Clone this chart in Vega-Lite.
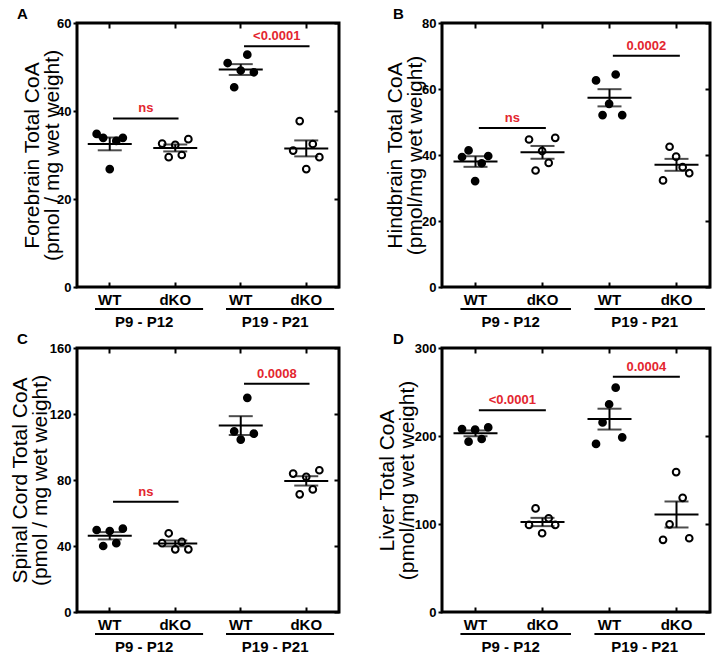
{
"$schema": "https://vega.github.io/schema/vega-lite/v6.json",
"padding": {"left": 7, "top": 5, "right": 3, "bottom": 2},
"columns": 2,
"bounds": "flush",
"spacing": {"row": 61, "column": 103},
"datasets": {
"pts": [
{"p":"A","age":"P9 - P12","g":"WT","r":1,"v":34.8},{"p":"A","age":"P9 - P12","g":"WT","r":2,"v":33.9},{"p":"A","age":"P9 - P12","g":"WT","r":3,"v":26.8},{"p":"A","age":"P9 - P12","g":"WT","r":4,"v":33.2},{"p":"A","age":"P9 - P12","g":"WT","r":5,"v":33.9},
{"p":"A","age":"P9 - P12","g":"dKO","r":1,"v":32.6},{"p":"A","age":"P9 - P12","g":"dKO","r":2,"v":29.5},{"p":"A","age":"P9 - P12","g":"dKO","r":3,"v":32.3},{"p":"A","age":"P9 - P12","g":"dKO","r":4,"v":30.0},{"p":"A","age":"P9 - P12","g":"dKO","r":5,"v":33.6},
{"p":"A","age":"P19 - P21","g":"WT","r":1,"v":50.9},{"p":"A","age":"P19 - P21","g":"WT","r":2,"v":45.4},{"p":"A","age":"P19 - P21","g":"WT","r":3,"v":49.2},{"p":"A","age":"P19 - P21","g":"WT","r":4,"v":52.8},{"p":"A","age":"P19 - P21","g":"WT","r":5,"v":48.8},
{"p":"A","age":"P19 - P21","g":"dKO","r":1,"v":31.0},{"p":"A","age":"P19 - P21","g":"dKO","r":2,"v":37.7},{"p":"A","age":"P19 - P21","g":"dKO","r":3,"v":26.8},{"p":"A","age":"P19 - P21","g":"dKO","r":4,"v":32.5},{"p":"A","age":"P19 - P21","g":"dKO","r":5,"v":29.5},
{"p":"B","age":"P9 - P12","g":"WT","r":1,"v":39.4},{"p":"B","age":"P9 - P12","g":"WT","r":2,"v":41.4},{"p":"B","age":"P9 - P12","g":"WT","r":3,"v":32.1},{"p":"B","age":"P9 - P12","g":"WT","r":4,"v":37.5},{"p":"B","age":"P9 - P12","g":"WT","r":5,"v":39.7},
{"p":"B","age":"P9 - P12","g":"dKO","r":1,"v":44.7},{"p":"B","age":"P9 - P12","g":"dKO","r":2,"v":35.3},{"p":"B","age":"P9 - P12","g":"dKO","r":3,"v":41.2},{"p":"B","age":"P9 - P12","g":"dKO","r":4,"v":37.6},{"p":"B","age":"P9 - P12","g":"dKO","r":5,"v":45.2},
{"p":"B","age":"P19 - P21","g":"WT","r":1,"v":62.6},{"p":"B","age":"P19 - P21","g":"WT","r":2,"v":52.1},{"p":"B","age":"P19 - P21","g":"WT","r":3,"v":55.5},{"p":"B","age":"P19 - P21","g":"WT","r":4,"v":64.4},{"p":"B","age":"P19 - P21","g":"WT","r":5,"v":52.1},
{"p":"B","age":"P19 - P21","g":"dKO","r":1,"v":32.3},{"p":"B","age":"P19 - P21","g":"dKO","r":2,"v":42.5},{"p":"B","age":"P19 - P21","g":"dKO","r":3,"v":39.5},{"p":"B","age":"P19 - P21","g":"dKO","r":4,"v":36.3},{"p":"B","age":"P19 - P21","g":"dKO","r":5,"v":34.5},
{"p":"C","age":"P9 - P12","g":"WT","r":1,"v":49.7},{"p":"C","age":"P9 - P12","g":"WT","r":2,"v":40.0},{"p":"C","age":"P9 - P12","g":"WT","r":3,"v":49.1},{"p":"C","age":"P9 - P12","g":"WT","r":4,"v":41.7},{"p":"C","age":"P9 - P12","g":"WT","r":5,"v":50.5},
{"p":"C","age":"P9 - P12","g":"dKO","r":1,"v":41.7},{"p":"C","age":"P9 - P12","g":"dKO","r":2,"v":47.7},{"p":"C","age":"P9 - P12","g":"dKO","r":3,"v":38.0},{"p":"C","age":"P9 - P12","g":"dKO","r":4,"v":42.5},{"p":"C","age":"P9 - P12","g":"dKO","r":5,"v":38.0},
{"p":"C","age":"P19 - P21","g":"WT","r":2,"v":109.5},{"p":"C","age":"P19 - P21","g":"WT","r":3,"v":104.5},{"p":"C","age":"P19 - P21","g":"WT","r":4,"v":129.8},{"p":"C","age":"P19 - P21","g":"WT","r":5,"v":108.1},
{"p":"C","age":"P19 - P21","g":"dKO","r":1,"v":83.9},{"p":"C","age":"P19 - P21","g":"dKO","r":2,"v":71.3},{"p":"C","age":"P19 - P21","g":"dKO","r":3,"v":81.9},{"p":"C","age":"P19 - P21","g":"dKO","r":4,"v":74.3},{"p":"C","age":"P19 - P21","g":"dKO","r":5,"v":85.9},
{"p":"D","age":"P9 - P12","g":"WT","r":1,"v":207.9},{"p":"D","age":"P9 - P12","g":"WT","r":2,"v":193.6},{"p":"D","age":"P9 - P12","g":"WT","r":3,"v":207.2},{"p":"D","age":"P9 - P12","g":"WT","r":4,"v":196.6},{"p":"D","age":"P9 - P12","g":"WT","r":5,"v":209.8},
{"p":"D","age":"P9 - P12","g":"dKO","r":1,"v":98.9},{"p":"D","age":"P9 - P12","g":"dKO","r":2,"v":117.7},{"p":"D","age":"P9 - P12","g":"dKO","r":3,"v":89.5},{"p":"D","age":"P9 - P12","g":"dKO","r":4,"v":106.4},{"p":"D","age":"P9 - P12","g":"dKO","r":5,"v":98.9},
{"p":"D","age":"P19 - P21","g":"WT","r":1,"v":191.0},{"p":"D","age":"P19 - P21","g":"WT","r":2,"v":215.4},{"p":"D","age":"P19 - P21","g":"WT","r":3,"v":236.1},{"p":"D","age":"P19 - P21","g":"WT","r":4,"v":254.9},{"p":"D","age":"P19 - P21","g":"WT","r":5,"v":198.5},
{"p":"D","age":"P19 - P21","g":"dKO","r":1,"v":82.0},{"p":"D","age":"P19 - P21","g":"dKO","r":2,"v":99.6},{"p":"D","age":"P19 - P21","g":"dKO","r":3,"v":159.0},{"p":"D","age":"P19 - P21","g":"dKO","r":4,"v":129.7},{"p":"D","age":"P19 - P21","g":"dKO","r":5,"v":83.8}
],
"sig": [
{"p":"A","a":"WT|P9 - P12","b":"dKO|P9 - P12","y":38.3,"label":"ns"},
{"p":"A","a":"WT|P19 - P21","b":"dKO|P19 - P21","y":54.7,"label":"<0.0001"},
{"p":"B","a":"WT|P9 - P12","b":"dKO|P9 - P12","y":48.2,"label":"ns"},
{"p":"B","a":"WT|P19 - P21","b":"dKO|P19 - P21","y":70.1,"label":"0.0002"},
{"p":"C","a":"WT|P9 - P12","b":"dKO|P9 - P12","y":66.8,"label":"ns"},
{"p":"C","a":"WT|P19 - P21","b":"dKO|P19 - P21","y":138.4,"label":"0.0008"},
{"p":"D","a":"WT|P9 - P12","b":"dKO|P9 - P12","y":229.4,"label":"<0.0001"},
{"p":"D","a":"WT|P19 - P21","b":"dKO|P19 - P21","y":267.2,"label":"0.0004"}
],
"grp": [
{"age":"P9 - P12","a":"WT|P9 - P12","b":"dKO|P9 - P12"},
{"age":"P19 - P21","a":"WT|P19 - P21","b":"dKO|P19 - P21"}
]
},
"config": {
"font": "Liberation Sans",
"view": {"stroke": "black", "strokeWidth": 3},
"axis": {"domain": false, "grid": false, "labelFont": "Liberation Sans", "labelFontWeight": "bold", "labelFontSize": 13, "labelColor": "black", "tickColor": "black", "tickWidth": 2, "titleFont": "Liberation Sans", "titleFontWeight": "normal", "titleFontSize": 21, "titleLineHeight": 20, "titleColor": "black"},
"title": {"font": "Liberation Sans", "fontSize": 15, "fontWeight": "bold", "anchor": "start", "color": "black", "frame": "group", "offset": -5}
},
"concat": [
{
"title": {"text": "A", "dx": -60},
"width": 262, "height": 264,
"resolve": {"axis": {"x": "independent", "y": "independent"}},
"layer": [
{"data": {"name": "pts"}, "transform": [{"filter": "datum.p === 'A'"}, {"calculate": "datum.g + '|' + datum.age", "as": "k"}],
 "mark": {"type": "point", "shape": "circle", "filled": true, "stroke": "black", "strokeWidth": 2, "size": 45, "opacity": 1},
 "encoding": {
  "x": {"field": "k", "type": "nominal", "scale": {"domain": ["WT|P9 - P12", "dKO|P9 - P12", "WT|P19 - P21", "dKO|P19 - P21"], "paddingInner": 0.5, "paddingOuter": 0.25}, "axis": {"orient": "bottom", "title": null, "labelExpr": "split(datum.label, '|')[0]", "labelAngle": 0, "tickSize": -5, "labelPadding": 10, "labelFontSize": 15}},
  "xOffset": {"field": "r", "type": "ordinal"},
  "y": {"field": "v", "type": "quantitative", "scale": {"domain": [0, 60], "nice": false}, "axis": {"values": [0, 20, 40, 60], "title": ["Forebrain Total CoA", "(pmol / mg wet weight)"], "tickSize": 4, "labelPadding": 2, "titlePadding": -6}},
  "fill": {"field": "g", "type": "nominal", "scale": {"domain": ["WT", "dKO"], "range": ["black", "white"]}, "legend": null}
 }},
{"data": {"name": "pts"}, "transform": [{"filter": "datum.p === 'A'"}, {"calculate": "datum.g + '|' + datum.age", "as": "k"}],
 "mark": {"type": "errorbar", "extent": "stderr", "color": "black", "thickness": 2, "ticks": {"size": 24, "thickness": 2, "color": "black"}},
 "encoding": {"x": {"field": "k", "type": "nominal", "axis": null}, "y": {"field": "v", "type": "quantitative", "axis": null}}},
{"data": {"name": "pts"}, "transform": [{"filter": "datum.p === 'A'"}, {"calculate": "datum.g + '|' + datum.age", "as": "k"}],
 "mark": {"type": "tick", "color": "black", "size": 44, "thickness": 2},
 "encoding": {"x": {"field": "k", "type": "nominal", "axis": {"orient": "top", "title": null, "labels": false, "tickSize": -5}}, "y": {"aggregate": "mean", "field": "v", "type": "quantitative", "axis": {"orient": "right", "title": null, "labels": false, "tickSize": -5, "values": [0, 20, 40, 60]}}}},
{"data": {"name": "sig"}, "transform": [{"filter": "datum.p === 'A'"}],
 "mark": {"type": "rule", "color": "black", "strokeWidth": 2},
 "encoding": {"x": {"field": "a", "type": "nominal", "bandPosition": 0.6, "axis": null}, "x2": {"field": "b", "bandPosition": 0.6}, "y": {"field": "y", "type": "quantitative", "axis": null}}},
{"data": {"name": "sig"}, "transform": [{"filter": "datum.p === 'A'"}],
 "mark": {"type": "text", "color": "#e3262f", "fontWeight": "bold", "fontSize": 13, "baseline": "bottom", "dy": -3},
 "encoding": {"x": {"field": "a", "type": "nominal", "bandPosition": 1.6, "axis": null}, "y": {"field": "y", "type": "quantitative", "axis": null}, "text": {"field": "label"}}},
{"data": {"name": "grp"},
 "mark": {"type": "rule", "color": "black", "strokeWidth": 2},
 "encoding": {"x": {"field": "a", "type": "nominal", "bandPosition": 0.05, "axis": null}, "x2": {"field": "b", "bandPosition": 1.35}, "y": {"datum": -5.0, "axis": null}}},
{"data": {"name": "grp"},
 "mark": {"type": "text", "color": "black", "fontWeight": "bold", "fontSize": 15, "baseline": "middle"},
 "encoding": {"x": {"field": "a", "type": "nominal", "bandPosition": 1.55, "axis": null}, "y": {"datum": -8.0, "axis": null}, "text": {"field": "age"}}}
]
},
{
"title": {"text": "B", "dx": -49},
"width": 268, "height": 264,
"resolve": {"axis": {"x": "independent", "y": "independent"}},
"layer": [
{"data": {"name": "pts"}, "transform": [{"filter": "datum.p === 'B'"}, {"calculate": "datum.g + '|' + datum.age", "as": "k"}],
 "mark": {"type": "point", "shape": "circle", "filled": true, "stroke": "black", "strokeWidth": 2, "size": 45, "opacity": 1},
 "encoding": {
  "x": {"field": "k", "type": "nominal", "scale": {"domain": ["WT|P9 - P12", "dKO|P9 - P12", "WT|P19 - P21", "dKO|P19 - P21"], "paddingInner": 0.5, "paddingOuter": 0.25}, "axis": {"orient": "bottom", "title": null, "labelExpr": "split(datum.label, '|')[0]", "labelAngle": 0, "tickSize": -5, "labelPadding": 10, "labelFontSize": 15}},
  "xOffset": {"field": "r", "type": "ordinal"},
  "y": {"field": "v", "type": "quantitative", "scale": {"domain": [0, 80], "nice": false}, "axis": {"values": [0, 20, 40, 60, 80], "title": ["Hindbrain Total CoA", "(pmol/mg wet weight)"], "tickSize": 4, "labelPadding": 2, "titlePadding": -4}},
  "fill": {"field": "g", "type": "nominal", "scale": {"domain": ["WT", "dKO"], "range": ["black", "white"]}, "legend": null}
 }},
{"data": {"name": "pts"}, "transform": [{"filter": "datum.p === 'B'"}, {"calculate": "datum.g + '|' + datum.age", "as": "k"}],
 "mark": {"type": "errorbar", "extent": "stderr", "color": "black", "thickness": 2, "ticks": {"size": 24, "thickness": 2, "color": "black"}},
 "encoding": {"x": {"field": "k", "type": "nominal", "axis": null}, "y": {"field": "v", "type": "quantitative", "axis": null}}},
{"data": {"name": "pts"}, "transform": [{"filter": "datum.p === 'B'"}, {"calculate": "datum.g + '|' + datum.age", "as": "k"}],
 "mark": {"type": "tick", "color": "black", "size": 44, "thickness": 2},
 "encoding": {"x": {"field": "k", "type": "nominal", "axis": {"orient": "top", "title": null, "labels": false, "tickSize": -5}}, "y": {"aggregate": "mean", "field": "v", "type": "quantitative", "axis": {"orient": "right", "title": null, "labels": false, "tickSize": -5, "values": [0, 20, 40, 60, 80]}}}},
{"data": {"name": "sig"}, "transform": [{"filter": "datum.p === 'B'"}],
 "mark": {"type": "rule", "color": "black", "strokeWidth": 2},
 "encoding": {"x": {"field": "a", "type": "nominal", "bandPosition": 0.6, "axis": null}, "x2": {"field": "b", "bandPosition": 0.6}, "y": {"field": "y", "type": "quantitative", "axis": null}}},
{"data": {"name": "sig"}, "transform": [{"filter": "datum.p === 'B'"}],
 "mark": {"type": "text", "color": "#e3262f", "fontWeight": "bold", "fontSize": 13, "baseline": "bottom", "dy": -3},
 "encoding": {"x": {"field": "a", "type": "nominal", "bandPosition": 1.6, "axis": null}, "y": {"field": "y", "type": "quantitative", "axis": null}, "text": {"field": "label"}}},
{"data": {"name": "grp"},
 "mark": {"type": "rule", "color": "black", "strokeWidth": 2},
 "encoding": {"x": {"field": "a", "type": "nominal", "bandPosition": 0.05, "axis": null}, "x2": {"field": "b", "bandPosition": 1.35}, "y": {"datum": -6.7, "axis": null}}},
{"data": {"name": "grp"},
 "mark": {"type": "text", "color": "black", "fontWeight": "bold", "fontSize": 15, "baseline": "middle"},
 "encoding": {"x": {"field": "a", "type": "nominal", "bandPosition": 1.55, "axis": null}, "y": {"datum": -10.6, "axis": null}, "text": {"field": "age"}}}
]
},
{
"title": {"text": "C", "dx": -60},
"width": 262, "height": 264,
"resolve": {"axis": {"x": "independent", "y": "independent"}},
"layer": [
{"data": {"name": "pts"}, "transform": [{"filter": "datum.p === 'C'"}, {"calculate": "datum.g + '|' + datum.age", "as": "k"}],
 "mark": {"type": "point", "shape": "circle", "filled": true, "stroke": "black", "strokeWidth": 2, "size": 45, "opacity": 1},
 "encoding": {
  "x": {"field": "k", "type": "nominal", "scale": {"domain": ["WT|P9 - P12", "dKO|P9 - P12", "WT|P19 - P21", "dKO|P19 - P21"], "paddingInner": 0.5, "paddingOuter": 0.25}, "axis": {"orient": "bottom", "title": null, "labelExpr": "split(datum.label, '|')[0]", "labelAngle": 0, "tickSize": -5, "labelPadding": 10, "labelFontSize": 15}},
  "xOffset": {"field": "r", "type": "ordinal"},
  "y": {"field": "v", "type": "quantitative", "scale": {"domain": [0, 160], "nice": false}, "axis": {"values": [0, 40, 80, 120, 160], "title": ["Spinal Cord Total CoA", "(pmol / mg wet weight)"], "tickSize": 4, "labelPadding": 2, "titlePadding": -1}},
  "fill": {"field": "g", "type": "nominal", "scale": {"domain": ["WT", "dKO"], "range": ["black", "white"]}, "legend": null}
 }},
{"data": {"name": "pts"}, "transform": [{"filter": "datum.p === 'C'"}, {"calculate": "datum.g + '|' + datum.age", "as": "k"}],
 "mark": {"type": "errorbar", "extent": "stderr", "color": "black", "thickness": 2, "ticks": {"size": 24, "thickness": 2, "color": "black"}},
 "encoding": {"x": {"field": "k", "type": "nominal", "axis": null}, "y": {"field": "v", "type": "quantitative", "axis": null}}},
{"data": {"name": "pts"}, "transform": [{"filter": "datum.p === 'C'"}, {"calculate": "datum.g + '|' + datum.age", "as": "k"}],
 "mark": {"type": "tick", "color": "black", "size": 44, "thickness": 2},
 "encoding": {"x": {"field": "k", "type": "nominal", "axis": {"orient": "top", "title": null, "labels": false, "tickSize": -5}}, "y": {"aggregate": "mean", "field": "v", "type": "quantitative", "axis": {"orient": "right", "title": null, "labels": false, "tickSize": -5, "values": [0, 40, 80, 120, 160]}}}},
{"data": {"name": "sig"}, "transform": [{"filter": "datum.p === 'C'"}],
 "mark": {"type": "rule", "color": "black", "strokeWidth": 2},
 "encoding": {"x": {"field": "a", "type": "nominal", "bandPosition": 0.6, "axis": null}, "x2": {"field": "b", "bandPosition": 0.6}, "y": {"field": "y", "type": "quantitative", "axis": null}}},
{"data": {"name": "sig"}, "transform": [{"filter": "datum.p === 'C'"}],
 "mark": {"type": "text", "color": "#e3262f", "fontWeight": "bold", "fontSize": 13, "baseline": "bottom", "dy": -3},
 "encoding": {"x": {"field": "a", "type": "nominal", "bandPosition": 1.6, "axis": null}, "y": {"field": "y", "type": "quantitative", "axis": null}, "text": {"field": "label"}}},
{"data": {"name": "grp"},
 "mark": {"type": "rule", "color": "black", "strokeWidth": 2},
 "encoding": {"x": {"field": "a", "type": "nominal", "bandPosition": 0.05, "axis": null}, "x2": {"field": "b", "bandPosition": 1.35}, "y": {"datum": -13.3, "axis": null}}},
{"data": {"name": "grp"},
 "mark": {"type": "text", "color": "black", "fontWeight": "bold", "fontSize": 15, "baseline": "middle"},
 "encoding": {"x": {"field": "a", "type": "nominal", "bandPosition": 1.55, "axis": null}, "y": {"datum": -21.2, "axis": null}, "text": {"field": "age"}}}
]
},
{
"title": {"text": "D", "dx": -49},
"width": 268, "height": 264,
"resolve": {"axis": {"x": "independent", "y": "independent"}},
"layer": [
{"data": {"name": "pts"}, "transform": [{"filter": "datum.p === 'D'"}, {"calculate": "datum.g + '|' + datum.age", "as": "k"}],
 "mark": {"type": "point", "shape": "circle", "filled": true, "stroke": "black", "strokeWidth": 2, "size": 45, "opacity": 1},
 "encoding": {
  "x": {"field": "k", "type": "nominal", "scale": {"domain": ["WT|P9 - P12", "dKO|P9 - P12", "WT|P19 - P21", "dKO|P19 - P21"], "paddingInner": 0.5, "paddingOuter": 0.25}, "axis": {"orient": "bottom", "title": null, "labelExpr": "split(datum.label, '|')[0]", "labelAngle": 0, "tickSize": -5, "labelPadding": 10, "labelFontSize": 15}},
  "xOffset": {"field": "r", "type": "ordinal"},
  "y": {"field": "v", "type": "quantitative", "scale": {"domain": [0, 300], "nice": false}, "axis": {"values": [0, 100, 200, 300], "title": ["Liver Total CoA", "(pmol/mg wet weight)"], "tickSize": 4, "labelPadding": 2, "titlePadding": -3}},
  "fill": {"field": "g", "type": "nominal", "scale": {"domain": ["WT", "dKO"], "range": ["black", "white"]}, "legend": null}
 }},
{"data": {"name": "pts"}, "transform": [{"filter": "datum.p === 'D'"}, {"calculate": "datum.g + '|' + datum.age", "as": "k"}],
 "mark": {"type": "errorbar", "extent": "stderr", "color": "black", "thickness": 2, "ticks": {"size": 24, "thickness": 2, "color": "black"}},
 "encoding": {"x": {"field": "k", "type": "nominal", "axis": null}, "y": {"field": "v", "type": "quantitative", "axis": null}}},
{"data": {"name": "pts"}, "transform": [{"filter": "datum.p === 'D'"}, {"calculate": "datum.g + '|' + datum.age", "as": "k"}],
 "mark": {"type": "tick", "color": "black", "size": 44, "thickness": 2},
 "encoding": {"x": {"field": "k", "type": "nominal", "axis": {"orient": "top", "title": null, "labels": false, "tickSize": -5}}, "y": {"aggregate": "mean", "field": "v", "type": "quantitative", "axis": {"orient": "right", "title": null, "labels": false, "tickSize": -5, "values": [0, 100, 200, 300]}}}},
{"data": {"name": "sig"}, "transform": [{"filter": "datum.p === 'D'"}],
 "mark": {"type": "rule", "color": "black", "strokeWidth": 2},
 "encoding": {"x": {"field": "a", "type": "nominal", "bandPosition": 0.6, "axis": null}, "x2": {"field": "b", "bandPosition": 0.6}, "y": {"field": "y", "type": "quantitative", "axis": null}}},
{"data": {"name": "sig"}, "transform": [{"filter": "datum.p === 'D'"}],
 "mark": {"type": "text", "color": "#e3262f", "fontWeight": "bold", "fontSize": 13, "baseline": "bottom", "dy": -3},
 "encoding": {"x": {"field": "a", "type": "nominal", "bandPosition": 1.6, "axis": null}, "y": {"field": "y", "type": "quantitative", "axis": null}, "text": {"field": "label"}}},
{"data": {"name": "grp"},
 "mark": {"type": "rule", "color": "black", "strokeWidth": 2},
 "encoding": {"x": {"field": "a", "type": "nominal", "bandPosition": 0.05, "axis": null}, "x2": {"field": "b", "bandPosition": 1.35}, "y": {"datum": -25.0, "axis": null}}},
{"data": {"name": "grp"},
 "mark": {"type": "text", "color": "black", "fontWeight": "bold", "fontSize": 15, "baseline": "middle"},
 "encoding": {"x": {"field": "a", "type": "nominal", "bandPosition": 1.55, "axis": null}, "y": {"datum": -39.8, "axis": null}, "text": {"field": "age"}}}
]
}
]
}
